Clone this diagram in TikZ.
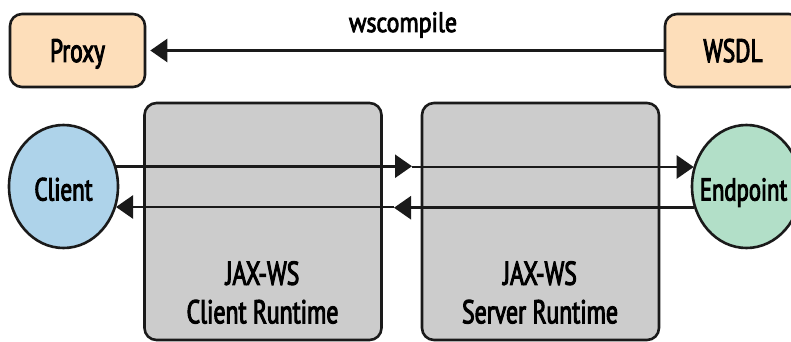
\documentclass[tikz,border=0pt]{standalone}
\usepackage{fontspec}
\setmainfont{PT Sans}[FakeStretch=0.72, FakeBold=3]
\newfontfamily\widerface{PT Sans}[FakeStretch=0.85, FakeBold=3]
\usetikzlibrary{arrows.meta,shapes.geometric}

\definecolor{peach}{HTML}{FDDEBA}
\definecolor{clientblue}{HTML}{AED3EA}
\definecolor{endpointgreen}{HTML}{B2DFC8}
\definecolor{rtgray}{HTML}{CCCCCC}
\definecolor{ink}{HTML}{1A1A1A}

\begin{document}
\begin{tikzpicture}[x=1pt, y=-1pt, line width=2.6pt, draw=ink,
  srcbox/.style={draw=ink, rounded corners=12pt, fill=peach,
    minimum width=135pt, minimum height=73pt, inner sep=0pt,
    text height=23pt, text depth=0pt,
    font=\fontsize{32.5}{32.5}\selectfont},
  rtbox/.style={draw=ink, rounded corners=12pt, fill=rtgray,
    minimum width=237pt, minimum height=237pt, inner sep=0pt},
  rtlabel/.style={align=center, inner sep=0pt,
    font=\fontsize{33}{38.5}\selectfont},
  actor/.style={draw=ink, ellipse, minimum width=109pt, minimum height=123pt,
    inner sep=0pt, text height=28pt, text depth=0pt,
    font=\fontsize{32}{32}\selectfont},
  flow/.style={draw=ink, -{Triangle[length=17pt,width=23pt]}},
]
\useasboundingbox (0,0) rectangle (791,342);

% source artefacts
\node[srcbox] (proxy) at (77.5,50.5) {Proxy};
\node[srcbox, minimum width=136pt] (wsdl) at (733,50.5) {WSDL};
\draw[flow, shorten >=4pt] (wsdl) -- (proxy);
\node[inner sep=0pt, anchor=base, font=\widerface\fontsize{28}{28}\selectfont]
  (wscompile) at (403,32) {wscompile};

% runtimes
\node[rtbox] (crt) at (263,221.5) {};
\node[rtbox] (srt) at (540.5,221.5) {};
\node[rtlabel, anchor=north] (crtlabel) at (262.5,260) {JAX-WS\\Client Runtime};
\node[rtlabel, anchor=north] (srtlabel) at (540,260) {JAX-WS\\Server Runtime};

% communicating parties
\node[actor, fill=clientblue] (client) at (63.5,186.5) {Client};
\node[actor, fill=endpointgreen] (endpoint) at (746.5,186.5) {};
\node[inner sep=0pt, text height=28pt, text depth=0pt,
  font=\fontsize{31.5}{31.5}\selectfont]
  (endpointname) at (743.5,186.5) {Endpoint};

% request and response paths
\coordinate (fwdmid) at (412,167);
\coordinate (backmid) at (394,207);
\draw[flow] (client.21) -- (client.21 -| fwdmid);
\draw[flow] (fwdmid) -- (fwdmid -| endpoint.159);
\draw[flow] (endpoint.-158) -- (endpoint.-158 -| backmid);
\draw[flow] (backmid) -- (backmid -| client.-22);
\end{tikzpicture}
\end{document}
